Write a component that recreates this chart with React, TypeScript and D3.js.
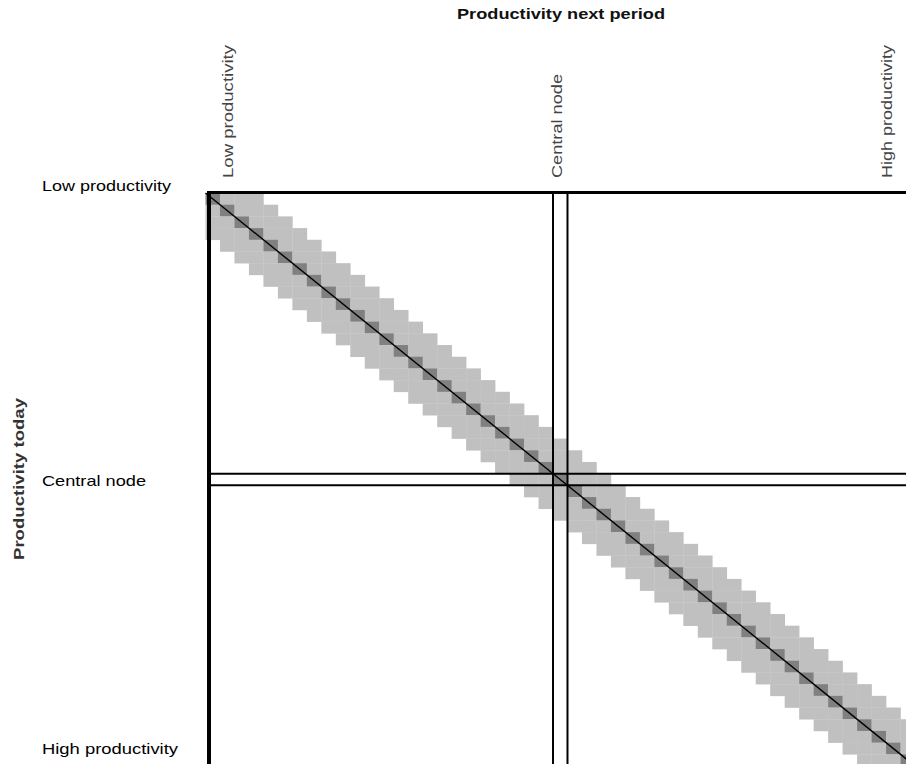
import React from 'react';
import * as d3 from 'd3';

// states of the productivity grid (0 = lowest, 24 = central node, 48 = highest)
const states = d3.range(49);
const centralState = 24;

// transition band: offset from today's state -> shade level
const bandOffsets = [-3, -2, -1, 0, 1, 2, 3];
const bandLevels = [1, 1, 1, 2, 1, 1, 1];

// tick labels and where they sit, in state units
const colLabels = ['Low productivity', 'Central node', 'High productivity'];
const colLabelAt = [1.9, 24.6, 47.4];
const colLabelLen = [133, 104, 133];
const rowLabels = ['Low productivity', 'Central node', 'High productivity'];
const rowLabelAt = [-0.6, 24.6, 47.5];
const rowLabelLen = [129, 104, 136];

const title = 'Productivity next period';
const yTitle = 'Productivity today';

const W = 906;
const H = 764;
const font = '"Liberation Sans", Arial, sans-serif';

const App: React.FC = () => {
  const x = d3.scaleLinear().domain([0, states.length]).range([205.5, 915]);
  const y = d3.scaleLinear().domain([0, states.length]).range([193, 766]);
  const shade = d3.scaleOrdinal<number, string>().domain([1, 2]).range(['#c0c0c0', '#808080']);

  const cells = states.flatMap((row) =>
    bandOffsets
      .map((off, k) => ({ row, col: row + off, level: bandLevels[k] }))
      .filter((c) => c.col >= 0 && c.col < states.length)
  );

  const left = 209;
  const top = 192.5;

  return (
    <svg width={W} height={H} style={{ position: 'absolute', left: 0, top: 0 }} fontFamily={font}>
      <rect width={W} height={H} fill="#fff" />
      <g>
        {cells.map((c) => (
          <rect
            key={`${c.row}-${c.col}`}
            x={x(c.col)}
            y={y(c.row)}
            width={x(c.col + 1) - x(c.col) + 0.3}
            height={y(c.row + 1) - y(c.row) + 0.3}
            fill={shade(c.level)}
          />
        ))}
      </g>
      {/* diagonal: staying put */}
      <line x1={x(0)} y1={y(0)} x2={x(states.length)} y2={y(states.length)} stroke="#000" strokeWidth={1.4} />
      {/* central node cross */}
      {[centralState, centralState + 1].map((s) => (
        <g key={s}>
          <line x1={x(s)} x2={x(s)} y1={top} y2={H} stroke="#000" strokeWidth={2} />
          <line x1={left} x2={W} y1={y(s)} y2={y(s)} stroke="#000" strokeWidth={2} />
        </g>
      ))}
      {/* frame */}
      <line x1={left} x2={left} y1={top - 1.5} y2={H} stroke="#000" strokeWidth={4} />
      <line x1={left - 2} x2={W} y1={top} y2={top} stroke="#000" strokeWidth={3} />

      <text x={561} y={19} textAnchor="middle" fontSize={14} fontWeight="bold" fill="#111"
        textLength={208} lengthAdjust="spacingAndGlyphs">
        {title}
      </text>
      {colLabels.map((t, i) => (
        <text
          key={t}
          transform={`translate(${x(colLabelAt[i])},178) rotate(-90)`}
          fontSize={14}
          fill="#444"
          textLength={colLabelLen[i]}
          lengthAdjust="spacingAndGlyphs"
        >
          {t}
        </text>
      ))}
      {rowLabels.map((t, i) => (
        <text key={t} x={42} y={y(rowLabelAt[i]) + 5.5} fontSize={15} fill="#000"
          textLength={rowLabelLen[i]} lengthAdjust="spacingAndGlyphs">
          {t}
        </text>
      ))}
      <text transform={`translate(24,479) rotate(-90)`} textAnchor="middle" fontSize={14} fontWeight="bold" fill="#333"
        textLength={162} lengthAdjust="spacingAndGlyphs">
        {yTitle}
      </text>
    </svg>
  );
};

export default App;
